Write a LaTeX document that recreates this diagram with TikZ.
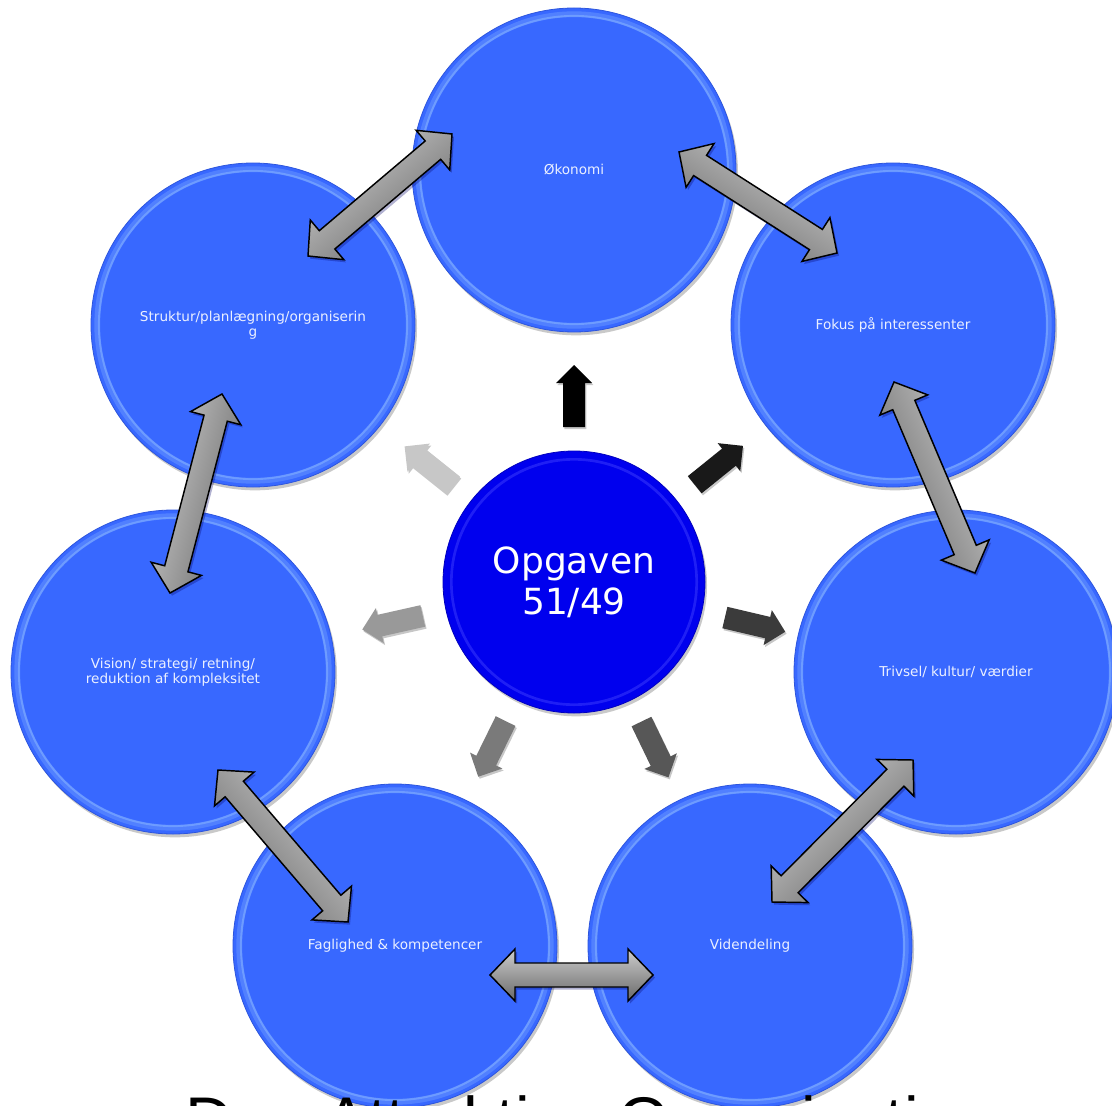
\documentclass[tikz,border=0pt]{standalone}
\usepackage{fontspec}
\setmainfont{DejaVu Sans}
\newfontfamily\arialf{Liberation Sans}
\usetikzlibrary{calc,shadows}
\definecolor{cblue}{RGB}{56,104,255}
\definecolor{cedge}{RGB}{45,85,220}
\definecolor{cring}{RGB}{130,175,255}
\definecolor{ctext}{RGB}{235,240,255}
\definecolor{ccenter}{RGB}{0,0,238}
\definecolor{ccring}{RGB}{70,70,255}
\definecolor{cgl}{RGB}{205,205,205}
\definecolor{cgd}{RGB}{105,105,105}
\tikzset{
  bubble/.style={circle, inner sep=0pt, outer sep=0pt, minimum size=243pt,
    fill=cblue, draw=cedge, line width=0.6pt, text=ctext,
    font=\fontsize{10.2}{11.5}\selectfont, align=center,
    drop shadow={shadow xshift=1.5pt, shadow yshift=-2.5pt, opacity=0.3, fill=black!70},
    path picture={
      \draw[cring, line width=4pt, opacity=0.35] (path picture bounding box.center) circle (117pt);
      \draw[cring, line width=1.6pt, opacity=0.6] (path picture bounding box.center) circle (115.5pt);}},
  hub/.style={circle, inner sep=0pt, outer sep=0pt, minimum size=196.5pt,
    fill=ccenter, draw=ccenter!80!black, line width=0.6pt, text=white,
    font=\fontsize{27}{31}\selectfont, align=center,
    drop shadow={shadow xshift=1.5pt, shadow yshift=-2.5pt, opacity=0.3, fill=black!70},
    path picture={\draw[ccring, line width=2pt, opacity=0.45] (path picture bounding box.center) circle (92pt);}},
  dblarr/.style={draw=black, line width=1.1pt, line join=miter},
}
\newcommand\radarrow[3]{%
  \coordinate (ra) at ($(#1.center)!116.25pt!(#2.center)$);
  \coordinate (rb) at ($(#1.center)!162.75pt!(#2.center)$);
  \coordinate (rh) at ($(rb)!13.5pt!(ra)$);
  \def\radpath{($(ra)!8.25pt!90:(rb)$) -- ($(rh)!8.25pt!90:(rb)$) -- ($(rh)!13.5pt!90:(rb)$) -- (rb) -- ($(rh)!13.5pt!-90:(rb)$) -- ($(rh)!8.25pt!-90:(rb)$) -- ($(ra)!8.25pt!-90:(rb)$) -- cycle}%
  \fill[black, opacity=0.22, transform canvas={shift={(1pt,-1.5pt)}}] \radpath;
  \fill[#3] \radpath;
}
\newcommand\dblarrow[2]{%
  \coordinate (da1) at ($(#1)!18.75pt!(#2)$);
  \coordinate (da2) at ($(#2)!18.75pt!(#1)$);
  \def\dblpath{(#1) -- ($(da1)!19.5pt!90:(#2)$) -- ($(da1)!9pt!90:(#2)$) -- ($(da2)!9pt!-90:(#1)$) -- ($(da2)!19.5pt!-90:(#1)$) -- (#2) -- ($(da2)!19.5pt!90:(#1)$) -- ($(da2)!9pt!90:(#1)$) -- ($(da1)!9pt!-90:(#2)$) -- ($(da1)!19.5pt!-90:(#2)$) -- cycle}%
  \pgfmathanglebetweenpoints{\pgfpointanchor{#1}{center}}{\pgfpointanchor{#2}{center}}%
  \pgfmathparse{mod(\pgfmathresult+90,180)-90}\edef\dang{\pgfmathresult}%
  \fill[black!60!blue, opacity=0.3, transform canvas={shift={(1.5pt,-2pt)}}] \dblpath;
  \shadedraw[dblarr, top color=cgl, bottom color=cgd, shading angle=\dang] \dblpath;
}
\begin{document}
\begin{tikzpicture}[x=0.75pt,y=-0.75pt]
\useasboundingbox (0,0) rectangle (1112,1105);
\clip (0,0) rectangle (1112,1105);
% outer circles
\node[bubble] (eko) at (574,170) {Økonomi};
\node[bubble] (fok) at (893,325) {Fokus på interessenter};
\node[bubble] (tri) at (956,672) {Trivsel/ kultur/ værdier};
\node[bubble] (vid) at (750,946) {Videndeling};
\node[bubble] (fag) at (395,946) {Faglighed \& kompetencer};
\node[bubble] (vis) at (173,672) {Vision/ strategi/ retning/\\reduktion af kompleksitet};
\node[bubble] (str) at (253,325) {Struktur/planlægning/organiserin\\g};
% centre
\node[hub] (ctr) at (574,582) {Opgaven\\51/49};
% radial arrows
\radarrow{ctr}{eko}{black}
\radarrow{ctr}{fok}{black!90}
\radarrow{ctr}{tri}{black!77}
\radarrow{ctr}{vid}{black!66}
\radarrow{ctr}{fag}{black!52}
\radarrow{ctr}{vis}{black!40}
\radarrow{ctr}{str}{black!22}
% double arrow end points
\coordinate (s1) at (308,256); \coordinate (e1) at (452,134);
\coordinate (s2) at (679,152); \coordinate (e2) at (837,253);
\coordinate (s3) at (894,382); \coordinate (e3) at (975,573);
\coordinate (s4) at (772,902); \coordinate (e4) at (913,760);
\coordinate (s5) at (490,975); \coordinate (e5) at (653,975);
\coordinate (s6) at (218,770); \coordinate (e6) at (348,922);
\coordinate (s7) at (170,593); \coordinate (e7) at (222,394);
\dblarrow{s1}{e1}
\dblarrow{s2}{e2}
\dblarrow{s3}{e3}
\dblarrow{s4}{e4}
\dblarrow{s5}{e5}
\dblarrow{s6}{e6}
\dblarrow{s7}{e7}
% bottom title (cut off at the lower edge, as in the reference)
\node[anchor=base west, inner sep=0pt, font=\arialf\fontsize{49.5}{50}\selectfont] (ttl) at (185,1143) {Den Attraktive Organisation};
\end{tikzpicture}
\end{document}
